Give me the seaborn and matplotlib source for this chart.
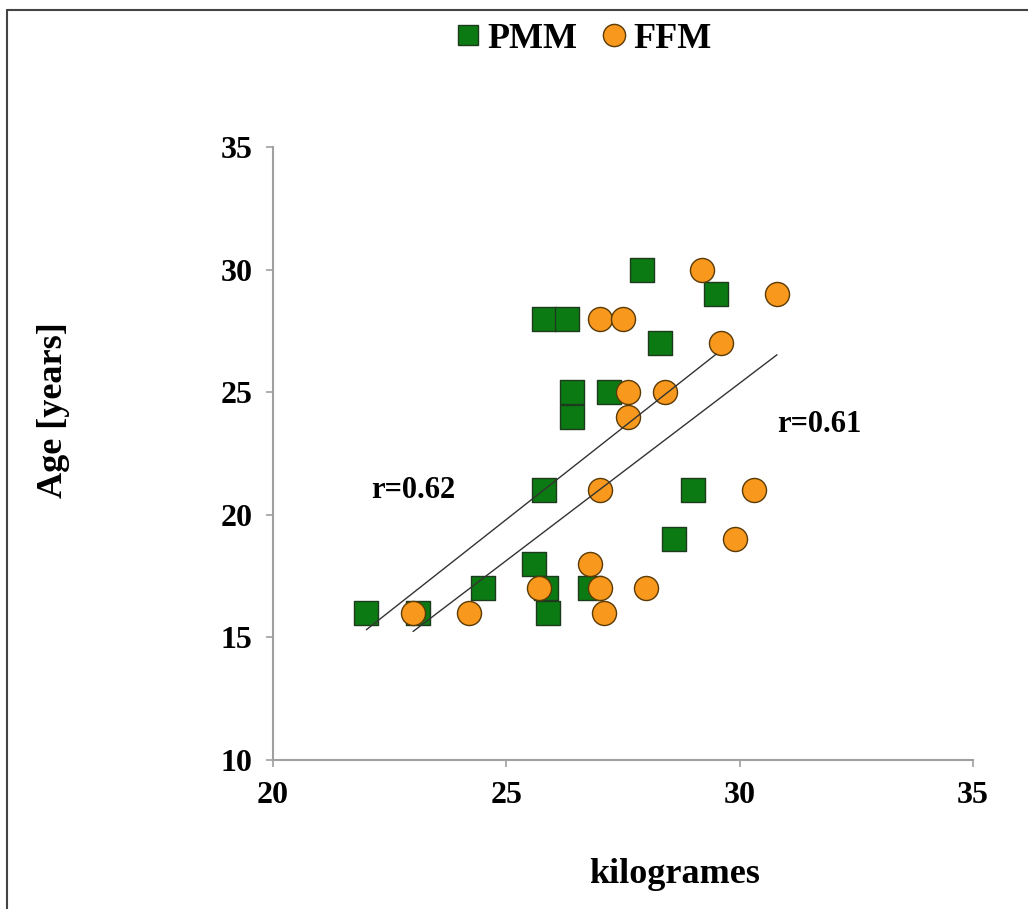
import numpy as np
import pandas as pd
import matplotlib
matplotlib.use("Agg")
import matplotlib.pyplot as plt
from matplotlib.lines import Line2D
import seaborn as sns

# ---- data ----
pmm_kg = [27.9, 29.5, 25.8, 26.3, 28.3, 26.4, 26.4, 27.2, 25.8, 29.0, 28.6, 25.6, 24.5, 25.85, 26.8, 22.0, 23.1, 25.9]
pmm_age = [30, 29, 28, 28, 27, 25, 24, 25, 21, 21, 19, 18, 17, 17, 17, 16, 16, 16]
ffm_kg = [29.2, 30.8, 27.0, 27.5, 29.6, 27.6, 28.4, 27.6, 27.0, 30.3, 29.9, 26.8, 25.7, 27.0, 28.0, 23.0, 24.2, 27.1]
ffm_age = [30, 29, 28, 28, 27, 25, 25, 24, 21, 21, 19, 18, 17, 17, 17, 16, 16, 16]
r_labels = ["r=0.62", "r=0.61"]
x_ticks = [20, 25, 30, 35]
y_ticks = [10, 15, 20, 25, 30, 35]

pmm = pd.DataFrame({"kg": pmm_kg, "age": pmm_age})
ffm = pd.DataFrame({"kg": ffm_kg, "age": ffm_age})

sns.set_style("white")
serif = ["Liberation Serif", "DejaVu Serif"]
plt.rcParams["font.family"] = serif
plt.rcParams["font.weight"] = "bold"
plt.rcParams["text.color"] = "black"
plt.rcParams["axes.labelcolor"] = "black"
plt.rcParams["xtick.labelcolor"] = "black"
plt.rcParams["ytick.labelcolor"] = "black"

GREEN = "#0C7A12"
ORANGE = "#F8991D"

fig = plt.figure(figsize=(10.28, 9.09), dpi=100)
ax = fig.add_axes([0.2656, 0.1639, 0.6809, 0.6744])

sns.scatterplot(data=pmm, x="kg", y="age", marker="s", s=300, color=GREEN,
                edgecolor="#1E3A1E", linewidth=1.0, ax=ax, zorder=2)
sns.scatterplot(data=ffm, x="kg", y="age", marker="o", s=300, color=ORANGE,
                edgecolor="#5A3A05", linewidth=1.0, ax=ax, zorder=3)
sns.regplot(data=pmm, x="kg", y="age", scatter=False, ci=None, truncate=True,
            line_kws=dict(color="#333333", lw=1.0, zorder=4), ax=ax)
sns.regplot(data=ffm, x="kg", y="age", scatter=False, ci=None, truncate=True,
            line_kws=dict(color="#333333", lw=1.0, zorder=4), ax=ax)

ax.set_xlim(20, 35)
ax.set_ylim(10, 35)
ax.set_xticks(x_ticks)
ax.set_yticks(y_ticks)
ax.tick_params(axis="both", direction="out", length=5, width=1.2, color="#A0A0A0",
               labelsize=23, pad=10, left=True, bottom=True, labelcolor="black")
for lab in ax.get_xticklabels() + ax.get_yticklabels():
    lab.set_fontweight("bold")
sns.despine(ax=ax)
for sp in ["left", "bottom"]:
    ax.spines[sp].set_color("#A0A0A0")
    ax.spines[sp].set_linewidth(1.5)

ax.set_xlabel("kilogrames", fontsize=26, fontweight="bold", color="black")
ax.set_ylabel("Age [years]", fontsize=26, fontweight="bold", color="black")
ax.xaxis.set_label_coords(0.574, -0.160)
ax.yaxis.set_label_coords(-0.29, 0.571)

ax.text(23.0, 21.0, r_labels[0], fontsize=22, fontweight="bold", ha="center", va="center")
ax.text(31.7, 23.7, r_labels[1], fontsize=22, fontweight="bold", ha="center", va="center")

handles = [
    Line2D([], [], marker="s", linestyle="none", markersize=15, markerfacecolor=GREEN,
           markeredgecolor="#1E3A1E", markeredgewidth=1.0, label="PMM"),
    Line2D([], [], marker="o", linestyle="none", markersize=16, markerfacecolor=ORANGE,
           markeredgecolor="#5A3A05", markeredgewidth=1.0, label="FFM"),
]
fig.legend(handles=handles, loc="center", bbox_to_anchor=(0.565, 0.957), ncol=2,
           frameon=False, prop=dict(family=serif, size=26, weight="bold"),
           handletextpad=0.05, columnspacing=0.5, handlelength=1.0)

# figure frame lines (left and top only)
fig.add_artist(Line2D([0.0068, 0.0068], [0, 0.989], transform=fig.transFigure,
                      color="#444444", lw=1.5))
fig.add_artist(Line2D([0.0068, 1.0], [0.989, 0.989], transform=fig.transFigure,
                      color="#444444", lw=1.5))

fig.savefig("out.png", dpi=100)
